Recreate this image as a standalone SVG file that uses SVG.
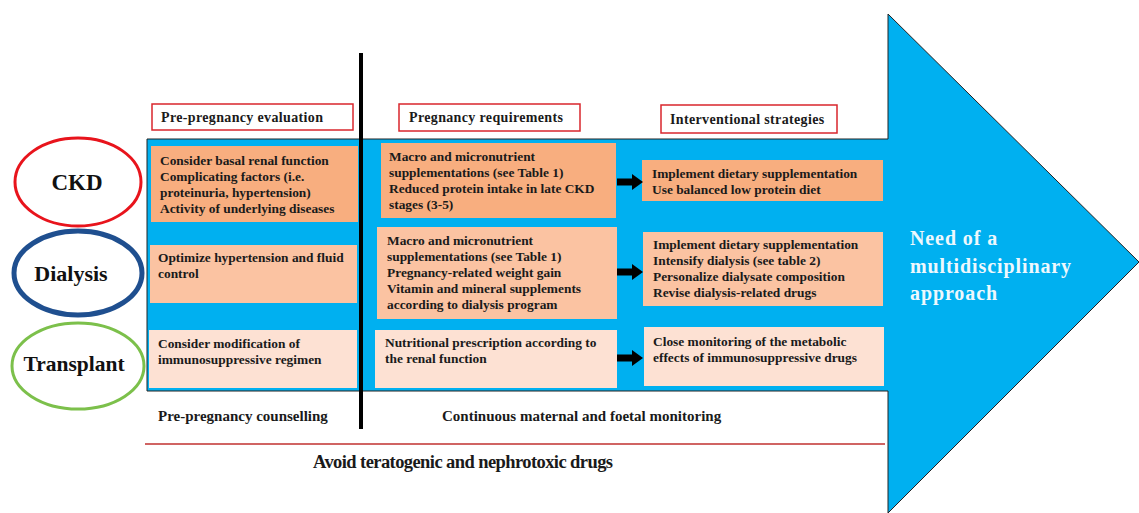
<svg xmlns="http://www.w3.org/2000/svg" width="1139" height="513" viewBox="0 0 1139 513">
<style>
.t{font-family:"Liberation Serif","Times New Roman",serif;font-weight:bold;font-size:13.4px;fill:#1a1a1a}
.h{font-family:"Liberation Serif","Times New Roman",serif;font-weight:bold;font-size:14px;letter-spacing:0.35px;fill:#1a1a1a}
.b{font-family:"Liberation Serif","Times New Roman",serif;font-weight:bold;font-size:15px;fill:#1a1a1a}
.lbl{font-family:"Liberation Serif","Times New Roman",serif;font-weight:bold;fill:#111}
.hdr{fill:#fff;stroke:#d9262c;stroke-width:1.5}
.ckd{fill:#F8AE7F}
.dia{fill:#FBC3A2}
.tx{fill:#FDE1D3}
.big{font-family:"Liberation Serif","Times New Roman",serif;font-weight:bold;font-size:20px;letter-spacing:0.9px;fill:#eef8fd}
</style>
<defs>
<path id="blk" d="M0,-3.5 H15 V-8 L26,0 L15,8 V3.5 H0 Z" fill="#000"/>
</defs>
<rect width="1139" height="513" fill="#fff"/>
<g id="bigArrow">
<polygon points="147,139 888,139 888,14 1139,262 888,513 888,391 147,391" fill="#00B0F0" stroke="#222" stroke-width="1"/>
<text class="big"><tspan x="910" y="245">Need of a</tspan><tspan x="910" y="273">multidisciplinary</tspan><tspan x="910" y="300">approach</tspan></text>
</g>
<line id="divider" x1="361" y1="53" x2="361" y2="429" stroke="#000" stroke-width="4"/>
<g id="hdr1"><rect class="hdr" x="152" y="104" width="201" height="26"/><text class="h" x="161" y="122">Pre-pregnancy evaluation</text></g>
<g id="hdr2"><rect class="hdr" x="399" y="104" width="181" height="27"/><text class="h" x="409" y="122">Pregnancy requirements</text></g>
<g id="hdr3"><rect class="hdr" x="661" y="105" width="176" height="28"/><text class="h" x="670" y="124">Interventional strategies</text></g>
<g id="ckd"><ellipse cx="78" cy="182" rx="63" ry="44" fill="#fff" stroke="#e8141c" stroke-width="3"/><text class="lbl" x="77" y="190" font-size="23" text-anchor="middle">CKD</text></g>
<g id="dialysis"><ellipse cx="78" cy="273" rx="64" ry="42" fill="#fff" stroke="#1f4f8f" stroke-width="5"/><text class="lbl" x="71" y="281" font-size="22" text-anchor="middle">Dialysis</text></g>
<g id="transplant"><ellipse cx="78" cy="366" rx="66" ry="43" fill="#fff" stroke="#7cc04b" stroke-width="3"/><text class="lbl" x="74" y="371" font-size="21.5" text-anchor="middle">Transplant</text></g>
<g id="ckd-eval"><rect class="ckd" x="151" y="146" width="207" height="76"/><text class="t"><tspan x="160" y="165">Consider basal renal function</tspan><tspan x="160" y="181">Complicating factors (i.e.</tspan><tspan x="160" y="197">proteinuria, hypertension)</tspan><tspan x="160" y="213">Activity of underlying diseases</tspan></text></g>
<g id="dia-eval"><rect class="dia" x="150" y="245" width="207" height="58"/><text class="t"><tspan x="158" y="262">Optimize hypertension and fluid</tspan><tspan x="158" y="278">control</tspan></text></g>
<g id="tx-eval"><rect class="tx" x="149" y="330" width="208" height="58"/><text class="t"><tspan x="158" y="348">Consider modification of</tspan><tspan x="158" y="364">immunosuppressive regimen</tspan></text></g>
<g id="ckd-req"><rect class="ckd" x="381" y="143" width="235" height="75"/><text class="t"><tspan x="389" y="161">Macro and micronutrient</tspan><tspan x="389" y="177">supplementations (see Table 1)</tspan><tspan x="389" y="193">Reduced protein intake in late CKD</tspan><tspan x="389" y="209">stages (3-5)</tspan></text></g>
<g id="dia-req"><rect class="dia" x="377" y="227" width="240" height="92"/><text class="t"><tspan x="387" y="245">Macro and micronutrient</tspan><tspan x="387" y="261">supplementations (see Table 1)</tspan><tspan x="387" y="277">Pregnancy-related weight gain</tspan><tspan x="387" y="293">Vitamin and mineral supplements</tspan><tspan x="387" y="309">according to dialysis program</tspan></text></g>
<g id="tx-req"><rect class="tx" x="375" y="330" width="242" height="58"/><text class="t"><tspan x="385" y="347">Nutritional prescription according to</tspan><tspan x="385" y="363">the renal function</tspan></text></g>
<g id="ckd-int"><rect class="ckd" x="642" y="160" width="241" height="41"/><text class="t"><tspan x="652" y="178">Implement dietary supplementation</tspan><tspan x="652" y="194">Use balanced low protein diet</tspan></text></g>
<g id="dia-int"><rect class="dia" x="643" y="232" width="240" height="74"/><text class="t"><tspan x="653" y="249">Implement dietary supplementation</tspan><tspan x="653" y="265">Intensify dialysis (see table 2)</tspan><tspan x="653" y="281">Personalize dialysate composition</tspan><tspan x="653" y="297">Revise dialysis-related drugs</tspan></text></g>
<g id="tx-int"><rect class="tx" x="644" y="327" width="240" height="59"/><text class="t"><tspan x="653" y="346">Close monitoring of the metabolic</tspan><tspan x="653" y="362">effects of immunosuppressive drugs</tspan></text></g>
<g id="connectors">
<use href="#blk" x="617" y="182"/>
<use href="#blk" x="617" y="272"/>
<use href="#blk" x="617" y="358"/>
</g>
<g id="bottom">
<text class="b" x="158" y="421">Pre-pregnancy counselling</text>
<text class="b" x="442" y="421">Continuous maternal and foetal monitoring</text>
<line x1="145" y1="444" x2="885" y2="444" stroke="#c0302f" stroke-width="1.5"/>
<text class="b" x="313" y="468" style="font-size:18.5px" textLength="300" lengthAdjust="spacing">Avoid teratogenic and nephrotoxic drugs</text>
</g>
</svg>
